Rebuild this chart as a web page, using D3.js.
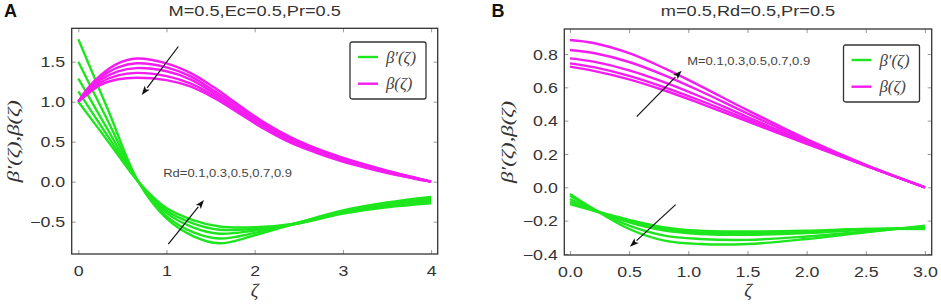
<!DOCTYPE html>
<html><head><meta charset="utf-8">
<script src="https://cdn.jsdelivr.net/npm/d3@7"></script>
<style>
html,body{margin:0;padding:0;background:#fff;}
svg{display:block;}
</style></head>
<body>
<div id="chart"></div>
<script>
// ---------- DATA ----------
// Panel A (M=0.5, Ec=0.5, Pr=0.5), Rd = 0.1..0.9
const rdValues = [0.1, 0.3, 0.5, 0.7, 0.9];
const xA_dbeta = [0, 0.34, 0.68, 1.0, 1.3, 1.6, 2.0, 2.5, 3.0, 3.5, 4.0];
const dbetaA_Rd01 = [1.78, 0.89, 0.0, -0.46, -0.68, -0.77, -0.67, -0.51, -0.36, -0.26, -0.19];
const dbetaA_Rd03 = [1.50, 0.75, 0.0, -0.43, -0.63, -0.71, -0.64, -0.51, -0.37, -0.28, -0.21];
const dbetaA_Rd05 = [1.29, 0.64, 0.0, -0.39, -0.57, -0.65, -0.61, -0.52, -0.38, -0.29, -0.23];
const dbetaA_Rd07 = [1.13, 0.56, 0.0, -0.36, -0.52, -0.60, -0.59, -0.52, -0.39, -0.31, -0.25];
const dbetaA_Rd09 = [1.00, 0.50, 0.0, -0.33, -0.48, -0.56, -0.57, -0.52, -0.40, -0.32, -0.27];

const xA_beta = [0, 0.1, 0.25, 0.45, 0.66, 1.0, 1.27, 1.55, 1.83, 2.1, 2.4, 2.7, 2.97, 3.25, 3.53, 3.8, 4.0];
const betaA_Rd01 = [1.0, 1.16, 1.33, 1.48, 1.54, 1.48, 1.36, 1.17, 0.95, 0.745, 0.56, 0.415, 0.31, 0.215, 0.13, 0.055, 0.0];
const betaA_Rd03 = [1.0, 1.14, 1.30, 1.43, 1.48, 1.43, 1.32, 1.13, 0.93, 0.73, 0.545, 0.405, 0.30, 0.205, 0.125, 0.053, 0.0];
const betaA_Rd05 = [1.0, 1.12, 1.27, 1.38, 1.42, 1.38, 1.28, 1.10, 0.90, 0.71, 0.53, 0.39, 0.29, 0.195, 0.118, 0.05, 0.0];
const betaA_Rd07 = [1.0, 1.10, 1.24, 1.33, 1.36, 1.32, 1.23, 1.07, 0.87, 0.685, 0.51, 0.375, 0.275, 0.185, 0.11, 0.045, 0.0];
const betaA_Rd09 = [1.0, 1.09, 1.21, 1.28, 1.30, 1.27, 1.19, 1.04, 0.85, 0.665, 0.49, 0.36, 0.26, 0.175, 0.10, 0.04, 0.0];

// Panel B (m=0.5, Rd=0.5, Pr=0.5), M = 0.1..0.9
const mValues = [0.1, 0.3, 0.5, 0.7, 0.9];
const xB = [0, 0.2, 0.5, 0.8, 1.1, 1.5, 2.0, 2.5, 3.0];
const dbetaB_M01 = [-0.10, -0.14, -0.195, -0.24, -0.26, -0.265, -0.26, -0.25, -0.25];
const dbetaB_M03 = [-0.085, -0.14, -0.20, -0.25, -0.27, -0.275, -0.265, -0.25, -0.245];
const dbetaB_M05 = [-0.07, -0.135, -0.21, -0.26, -0.28, -0.285, -0.275, -0.255, -0.24];
const dbetaB_M07 = [-0.05, -0.13, -0.23, -0.29, -0.31, -0.315, -0.295, -0.265, -0.235];
const dbetaB_M09 = [-0.04, -0.13, -0.25, -0.32, -0.34, -0.34, -0.31, -0.27, -0.23];

const betaB_M01 = [0.724, 0.699, 0.648, 0.581, 0.504, 0.396, 0.260, 0.129, 0];
const betaB_M03 = [0.744, 0.721, 0.669, 0.600, 0.521, 0.408, 0.266, 0.130, 0];
const betaB_M05 = [0.774, 0.754, 0.702, 0.630, 0.545, 0.422, 0.272, 0.131, 0];
const betaB_M07 = [0.824, 0.806, 0.752, 0.672, 0.578, 0.443, 0.280, 0.133, 0];
const betaB_M09 = [0.884, 0.866, 0.805, 0.714, 0.609, 0.463, 0.289, 0.135, 0];

// Tick labels
const xTicksA = [0, 1, 2, 3, 4];
const yTicksA = [-0.5, 0.0, 0.5, 1.0, 1.5];
const xTicksB = [0, 0.5, 1.0, 1.5, 2.0, 2.5, 3.0];
const yTicksB = [-0.4, -0.2, 0.0, 0.2, 0.4, 0.6, 0.8];

const titleA = "M=0.5,Ec=0.5,Pr=0.5";
const titleB = "m=0.5,Rd=0.5,Pr=0.5";
const noteA = "Rd=0.1,0.3,0.5,0.7,0.9";
const noteB = "M=0.1,0.3,0.5,0.7,0.9";
const legendLabels = ["β′(ζ)", "β(ζ)"];
const yLabel = "β′(ζ),β(ζ)";
const xLabel = "ζ";

// ---------- STYLE ----------
const GREEN = "#1ee61e", MAGENTA = "#f41cf0";
const SANS = "'Liberation Sans', Arial, sans-serif";
const SERIF = "'Liberation Serif', 'Times New Roman', serif";

const svg = d3.select("#chart").append("svg").attr("width", 941).attr("height", 308);

function stext(g, x, y, s, o) {
  const t = g.append("text")
    .attr("transform", `translate(${x},${y}) scale(${o.sx || 1},1)`)
    .attr("text-anchor", o.anchor || "middle")
    .attr("font-family", o.family || SANS)
    .attr("font-size", o.size || 14)
    .attr("fill", o.fill || "#333")
    .text(s);
  if (o.style) t.attr("font-style", o.style);
  if (o.weight) t.attr("font-weight", o.weight);
  return t;
}

function panel(cfg) {
  const g = svg.append("g");
  const x = d3.scaleLinear().domain(cfg.xDom).range([cfg.left, cfg.right]);
  const y = d3.scaleLinear().domain(cfg.yDom).range([cfg.bottom, cfg.top]);

  // axes (ticks inward on all four sides)
  const fmtX = cfg.fmtX, fmtY = cfg.fmtY;
  const bx = g.append("g").attr("transform", `translate(0,${cfg.bottom})`)
    .call(d3.axisBottom(x).tickValues(cfg.xTicks).tickSize(-4).tickFormat(fmtX));
  const ly = g.append("g").attr("transform", `translate(${cfg.left},0)`)
    .call(d3.axisLeft(y).tickValues(cfg.yTicks).tickSize(-4).tickFormat(fmtY));
  g.append("g").attr("transform", `translate(0,${cfg.top})`)
    .call(d3.axisTop(x).tickValues(cfg.xTicks).tickSize(-4).tickFormat(""));
  g.append("g").attr("transform", `translate(${cfg.right},0)`)
    .call(d3.axisRight(y).tickValues(cfg.yTicks).tickSize(-4).tickFormat(""));
  g.selectAll(".domain").remove();
  g.selectAll(".tick line").attr("stroke", "#999").attr("stroke-width", 1);
  bx.selectAll(".tick text").attr("y", null).attr("dy", null)
    .attr("transform", "translate(0,21.5) scale(1.27,1)")
    .attr("font-family", SANS).attr("font-size", 14).attr("fill", "#333");
  ly.selectAll(".tick text").attr("x", null).attr("dy", "0.36em")
    .attr("transform", "translate(-6.5,0) scale(1.27,1)")
    .attr("text-anchor", "end")
    .attr("font-family", SANS).attr("font-size", 14).attr("fill", "#333");

  // curves
  const clipId = "clip" + cfg.id;
  g.append("clipPath").attr("id", clipId).append("rect")
    .attr("x", cfg.left).attr("y", cfg.top)
    .attr("width", cfg.right - cfg.left).attr("height", cfg.bottom - cfg.top);
  const line = d3.line().curve(d3.curveCatmullRom.alpha(0.5));
  const cg = g.append("g").attr("clip-path", `url(#${clipId})`);
  cfg.green.forEach(s => {
    cg.append("path").attr("d", line(cfg.xg.map((v, i) => [x(v), y(s[i])])))
      .attr("fill", "none").attr("stroke", GREEN).attr("stroke-width", 2.4);
  });
  cfg.magenta.forEach(s => {
    cg.append("path").attr("d", line(cfg.xm.map((v, i) => [x(v), y(s[i])])))
      .attr("fill", "none").attr("stroke", MAGENTA).attr("stroke-width", 2.4);
  });

  // frame
  g.append("rect").attr("x", cfg.left).attr("y", cfg.top)
    .attr("width", cfg.right - cfg.left).attr("height", cfg.bottom - cfg.top)
    .attr("fill", "none").attr("stroke", "#333").attr("stroke-width", 1.3);

  // arrows
  cfg.arrows.forEach(a => {
    const x1 = x(a[0]), y1 = y(a[1]), x2 = x(a[2]), y2 = y(a[3]);
    const ang = Math.atan2(y2 - y1, x2 - x1);
    const L = 9, Wd = 3.2;
    const bxp = x2 - L * Math.cos(ang), byp = y2 - L * Math.sin(ang);
    g.append("line").attr("x1", x1).attr("y1", y1).attr("x2", bxp).attr("y2", byp)
      .attr("stroke", "#111").attr("stroke-width", 1.2);
    const p1 = [bxp + Wd * Math.sin(ang), byp - Wd * Math.cos(ang)];
    const p2 = [bxp - Wd * Math.sin(ang), byp + Wd * Math.cos(ang)];
    g.append("path").attr("d", `M${x2},${y2}L${p1[0]},${p1[1]}L${bxp + 2 * Math.cos(ang)},${byp + 2 * Math.sin(ang)}L${p2[0]},${p2[1]}Z`)
      .attr("fill", "#111");
  });

  // annotation
  stext(g, x(cfg.note[0]), y(cfg.note[1]), cfg.note[2], { size: 11, sx: 1.18, anchor: "start", fill: "#444" });

  // title
  stext(g, (cfg.left + cfg.right) / 2, 16, cfg.title, { size: 14, sx: 1.3, fill: "#333" });

  // panel letter
  stext(g, cfg.letterX, 17, cfg.letter, { size: 18, weight: "bold", anchor: "start", fill: "#111" });

  // axis labels
  g.append("text")
    .attr("transform", `translate(${cfg.yLabelX},${(cfg.top + cfg.bottom) / 2}) rotate(-90)`)
    .attr("text-anchor", "middle").attr("dy", "0.35em")
    .attr("font-family", SERIF).attr("font-style", "italic").attr("font-size", 17)
    .attr("fill", "#333").attr("textLength", 82).attr("lengthAdjust", "spacingAndGlyphs")
    .text(yLabel);
  stext(g, (cfg.left + cfg.right) / 2, 297, xLabel, { size: 19, family: SERIF, style: "italic", fill: "#333" });

  // legend
  const lg = g.append("g").attr("transform", `translate(${cfg.legend[0]},${cfg.legend[1]})`);
  lg.append("rect").attr("x", 0).attr("y", 0).attr("width", 76).attr("height", 57)
    .attr("rx", 2).attr("fill", "#fff").attr("stroke", "#333").attr("stroke-width", 1.3);
  [GREEN, MAGENTA].forEach((c, i) => {
    const yy = 15 + i * 26.7;
    lg.append("line").attr("x1", 8).attr("x2", 28).attr("y1", yy).attr("y2", yy)
      .attr("stroke", c).attr("stroke-width", 2.4);
    stext(lg, 36, yy + 5.5, legendLabels[i], { size: 16, family: SERIF, style: "italic", anchor: "start", sx: 1.05, fill: "#444" });
  });
}

panel({
  id: "A", letter: "A", letterX: 4, title: titleA,
  left: 71.7, right: 437.7, top: 28.3, bottom: 254,
  xDom: [-0.075, 4.075], yDom: [-0.904, 1.9175],
  xTicks: xTicksA, yTicks: yTicksA,
  fmtX: d3.format("d"), fmtY: d3.format(".1f"),
  xg: xA_dbeta, green: [dbetaA_Rd01, dbetaA_Rd03, dbetaA_Rd05, dbetaA_Rd07, dbetaA_Rd09],
  xm: xA_beta, magenta: [betaA_Rd01, betaA_Rd03, betaA_Rd05, betaA_Rd07, betaA_Rd09],
  arrows: [[1.134, 1.69, 0.719, 1.084], [1.02, -0.78, 1.425, -0.229]],
  note: [0.963, 0.055, noteA],
  yLabelX: 13, legend: [350, 42]
});

panel({
  id: "B", letter: "B", letterX: 491.5, title: titleB,
  left: 564.3, right: 931.7, top: 29, bottom: 255,
  xDom: [-0.048, 3.057], yDom: [-0.406, 0.95],
  xTicks: xTicksB, yTicks: yTicksB,
  fmtX: d3.format(".1f"), fmtY: d3.format(".1f"),
  xg: xB, green: [dbetaB_M01, dbetaB_M03, dbetaB_M05, dbetaB_M07, dbetaB_M09],
  xm: xB, magenta: [betaB_M01, betaB_M03, betaB_M05, betaB_M07, betaB_M09],
  arrows: [[0.564, 0.424, 0.944, 0.70], [0.893, -0.104, 0.507, -0.356]],
  note: [0.991, 0.734, noteB],
  yLabelX: 507.5, legend: [843.5, 45]
});
</script>
</body></html>
